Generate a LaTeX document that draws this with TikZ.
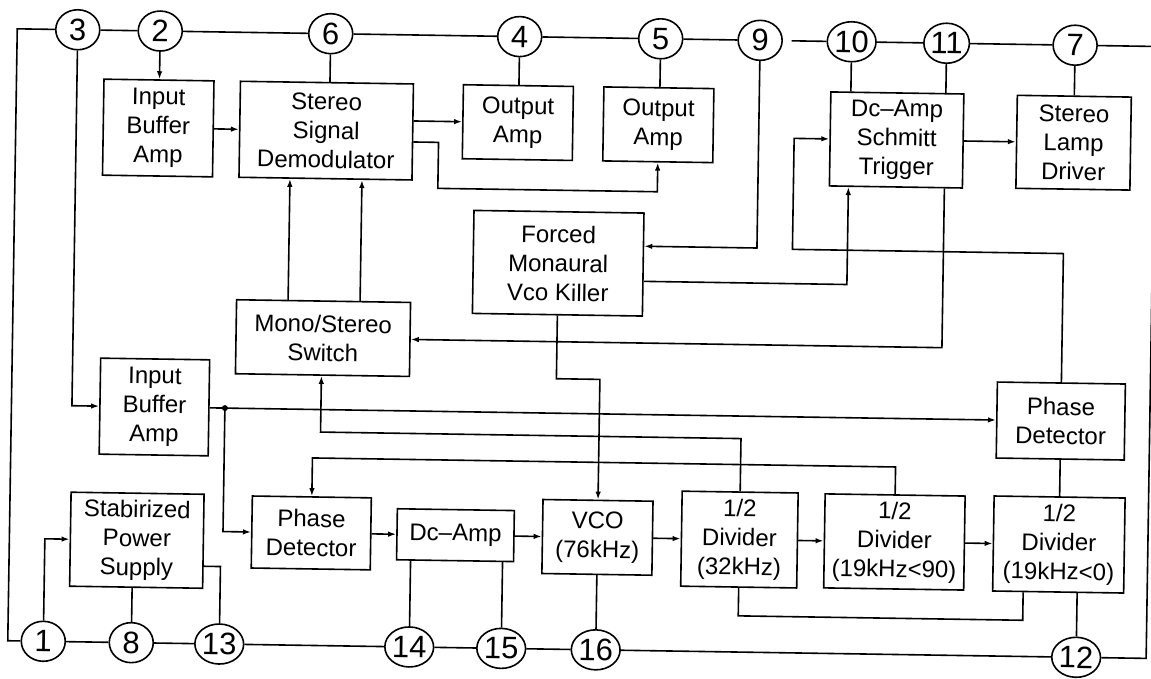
\documentclass[tikz,border=0pt]{standalone}
\usepackage{fontspec}
\setmainfont{Liberation Sans}
\usetikzlibrary{arrows.meta,shapes.geometric}
\begin{document}
\begin{tikzpicture}[x=1pt,y=-1pt,line width=1.6pt,
  box/.style={draw,line width=1.6pt,align=center,inner sep=0pt,font=\fontsize{24}{29}\selectfont},
  pin/.style={draw,ellipse,line width=1.6pt,minimum width=44pt,minimum height=40pt,inner sep=0pt,font=\fontsize{31}{31}\selectfont},
  arr/.style={-{Latex[length=8pt,width=5.5pt]}}]
\useasboundingbox (0,0) rectangle (1151,679);
\fill[white] (0,0) rectangle (1151,679);
\begin{scope}[transform canvas={rotate around={-0.888:(575,340)}}]
% pins top
\node[pin] (p3) at (73,37.5) {3};
\node[pin] (p2) at (155.5,37.5) {2};
\node[pin] (p6) at (326,37.5) {6};
\node[pin] (p4) at (515,37.5) {4};
\node[pin] (p5) at (656,37.5) {5};
\node[pin] (p9) at (755.5,37.5) {9};
\node[pin] (p10) at (847,37.5) {10};
\node[pin] (p11) at (942,37.5) {11};
\node[pin] (p7) at (1070.5,37.5) {7};
% pins bottom
\node[pin] (p1) at (48,649.5) {1};
\node[pin] (p8) at (136,649.5) {8};
\node[pin] (p13) at (224,649.5) {13};
\node[pin] (p14) at (414,649.5) {14};
\node[pin] (p15) at (506,649.5) {15};
\node[pin] (p16) at (600.5,649.5) {16};
\node[pin] (p12) at (1081,649.5) {12};
% boxes
\node[box,minimum width=110pt,minimum height=96pt] (iba1) at (155,134.5) {Input\\Buffer\\Amp};
\node[box,minimum width=173pt,minimum height=96pt] (demod) at (323,134.5) {Stereo\\Signal\\Demodulator};
\node[box,minimum width=110pt,minimum height=74pt] (oa1) at (514.5,123.5) {Output\\Amp};
\node[box,minimum width=110pt,minimum height=74pt] (oa2) at (655,123.5) {Output\\Amp};
\node[box,minimum width=133pt,minimum height=94pt] (schmitt) at (893.5,135) {Dc--Amp\\Schmitt\\Trigger};
\node[box,minimum width=114pt,minimum height=93pt] (lamp) at (1070.5,135) {Stereo\\Lamp\\Driver};
\node[box,minimum width=170pt,minimum height=103pt] (forced) at (557,263.5) {Forced\\Monaural\\Vco Killer};
\node[box,minimum width=174pt,minimum height=74pt] (switch) at (323,342) {Mono/Stereo\\Switch};
\node[box,minimum width=109pt,minimum height=96pt] (iba2) at (155.5,413.5) {Input\\Buffer\\Amp};
\node[box,minimum width=128pt,minimum height=76pt] (pdr) at (1062,413.5) {Phase\\Detector};
\node[box,minimum width=133pt,minimum height=94pt] (power) at (140,547) {Stabirized\\Power\\Supply};
\node[box,minimum width=119pt,minimum height=72pt] (pdl) at (314.3,537) {Phase\\Detector};
\node[box,minimum width=117pt,minimum height=51pt] (dcamp) at (458.5,537) {Dc--Amp};
\node[box,minimum width=110pt,minimum height=74pt] (vco) at (600.5,537) {VCO\\(76kHz)};
\node[box,minimum width=116pt,minimum height=95pt] (div1) at (742.5,537) {1/2\\Divider\\(32kHz)};
\node[box,minimum width=140pt,minimum height=94pt] (div2) at (897.5,537) {1/2\\Divider\\(19kHz<90)};
\node[box,minimum width=131pt,minimum height=95pt] (div3) at (1062,537) {1/2\\Divider\\(19kHz<0)};
% helper coordinates
\coordinate (tl) at (12.5,37.5);
\coordinate (bl) at (12.5,649.5);
\coordinate (tr) at (1151,37.5);
\coordinate (br) at (1151,649.5);
\coordinate (g9) at (787,37.5);
\coordinate (dm) at (435.5,190.5);
\coordinate (fk) at (600.5,379);
\coordinate (sw) at (322,436);
\coordinate (pl) at (314.3,462);
\coordinate (jn) at (226,413.5);
\coordinate (sc) at (791,246);
\coordinate (fx) at (846,280.3);
\coordinate (dv) at (1027,613.3);
\coordinate (xa) at (287.5,0);
\coordinate (xb) at (359.5,0);
% frame lines
\draw (p3) -- (tl) -- (bl) -- (p1);
\draw (p3) -- (p2) (p2) -- (p6) (p6) -- (p4) (p4) -- (p5) (p5) -- (p9);
\draw (g9) -- (p10) (p10) -- (p11) (p11) -- (p7);
\draw (p7) -- (tr) -- (br) -- (p12);
\draw (p1) -- (p8) (p8) -- (p13) (p13) -- (p14) (p14) -- (p15) (p15) -- (p16) (p16) -- (p12);
% connectors
\draw[arr] (p2.south) -- (p2.south |- iba1.north);
\draw[arr] (iba1.east) -- (demod.west);
\draw (p6.south) -- (p6.south |- demod.north);
\draw[arr] (demod.east |- oa1.west) -- (oa1.west);
\draw (p4.south) -- (p4.south |- oa1.north);
\draw (p5.south) -- (p5.south |- oa2.north);
\draw[arr] ([yshift=-10pt]demod.east) -| (dm) -| (oa2.south);
\draw[arr] (p9.south) |- ([yshift=18.3pt]forced.east);
\draw[arr] ([yshift=-16.8pt]forced.east) -| (fx |- schmitt.south);
\draw[arr] (pdr.north) |- (sc) |- (schmitt.west);
\draw[arr] ([xshift=48.5pt]schmitt.south) |- (switch.east);
\draw (p10.south) -- (p10.south |- schmitt.north);
\draw (p11.south) -- (p11.south |- schmitt.north);
\draw[arr] (schmitt.east) -- (lamp.west);
\draw (p7.south) -- (lamp.north);
\draw[arr] (forced.south) |- (fk) -- (vco.north);
\draw[arr] (switch.north -| xa) -- (demod.south -| xa);
\draw[arr] (switch.north -| xb) -- (demod.south -| xb);
\draw[arr] (p3.south) |- (iba2.west);
\draw[arr] (iba2.east) -- (pdr.west);
\fill (jn) circle[radius=3pt];
\draw[arr] (jn) |- (pdl.west);
\draw[arr] (div1.north) |- (sw) -- (sw |- switch.south);
\draw[arr] (div2.north) |- (pl) -- (pdl.north);
\draw[arr] (pdl.east) -- (dcamp.west);
\draw[arr] (dcamp.east) -- (vco.west);
\draw[arr] (vco.east) -- (div1.west);
\draw[arr] (div1.east) -- (div2.west);
\draw[arr] (div2.east) -- (div3.west);
\draw (p14.north) -- (p14.north |- dcamp.south);
\draw (p15.north) -- (p15.north |- dcamp.south);
\draw (p16.north) -- (vco.south);
\draw (div1.south) |- (dv) -- (dv |- div3.south);
\draw (p12.north) -- (p12.north |- div3.south);
\draw (div3.north) -- (pdr.south);
\draw[arr] (p1.north) |- (power.west);
\draw (p8.north) -- (p8.north |- power.south);
\draw ([yshift=-25pt]power.east) -| (p13.north);
\end{scope}
\end{tikzpicture}
\end{document}
